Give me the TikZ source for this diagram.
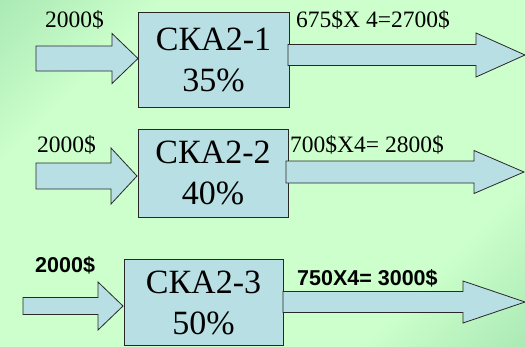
\documentclass[tikz,border=0pt]{standalone}
\usepackage{fontspec}
\setmainfont{Liberation Serif}
\setsansfont{Liberation Sans}
\usetikzlibrary{positioning}
\definecolor{bgdark}{RGB}{136,211,155}
\definecolor{bglight}{RGB}{204,255,204}
\definecolor{boxfill}{RGB}{184,223,227}
\definecolor{edgegray}{RGB}{40,40,40}
\pgfdeclareverticalshading{slidebg}{100bp}{color(0bp)=(bgdark); color(28bp)=(bglight);
  color(72bp)=(bglight); color(100bp)=(bgdark)}
% block arrow: start x, neck x, tip x, middle y, half shaft, half head
\newcommand{\blockarrow}[6]{%
  \draw[arrowbox] (#1,#4-#5) -- (#2,#4-#5) -- (#2,#4-#6) -- (#3,#4)
    -- (#2,#4+#6) -- (#2,#4+#5) -- (#1,#4+#5) -- cycle;}

\begin{document}
\begin{tikzpicture}[x=1pt, y=-1pt,
    skabox/.style={rectangle, draw=edgegray, fill=boxfill, line width=0.8pt, inner sep=0,
        align=center, font=\fontsize{34}{41}\selectfont},
    arrowbox/.style={draw=edgegray, fill=boxfill, line width=0.8pt, line join=miter},
    lbl/.style={inner sep=0, font=\fontsize{23.5}{28}\selectfont},
    boldlbl/.style={inner sep=0, font=\sffamily\bfseries\fontsize{21.5}{26}\selectfont}]
    \useasboundingbox (0,0) rectangle (525,346);
    \shade[shading=slidebg, shading angle=45] (0,0) rectangle (525,346);

    % first row
    \node (ska1) at (213.5,59.5) [skabox, minimum width=151pt, minimum height=95pt] {СКА2-1\\35\%};
    \blockarrow{36}{112}{138}{58.5}{12.5}{25}
    \blockarrow{288}{476}{525}{55}{10.5}{22}
    \node (in1) at (45,27) [lbl, anchor=base west] {2000\$};
    \node (out1) at (296,27) [lbl, anchor=base west] {675\$X 4=2700\$};

    % second row
    \node (ska2) at (213,173) [skabox, minimum width=150pt, minimum height=88pt] {СКА2-2\\40\%};
    \blockarrow{36}{111}{137}{176}{13}{28}
    \blockarrow{286}{474}{524}{172}{11}{21.5}
    \node (in2) at (37,152) [lbl, anchor=base west] {2000\$};
    \node (out2) at (290,152) [lbl, anchor=base west] {700\$X4= 2800\$};

    % third row
    \node (ska3) at (203.5,302.5) [skabox, minimum width=159pt, minimum height=86pt] {СКА2-3\\50\%};
    \blockarrow{23}{98}{123}{306}{8.5}{24}
    \blockarrow{283}{463}{525}{302}{10.5}{21}
    \node (in3) at (35,272) [boldlbl, anchor=base west] {2000\$};
    \node (out3) at (297,285) [boldlbl, anchor=base west] {750X4= 3000\$};
\end{tikzpicture}
\end{document}
